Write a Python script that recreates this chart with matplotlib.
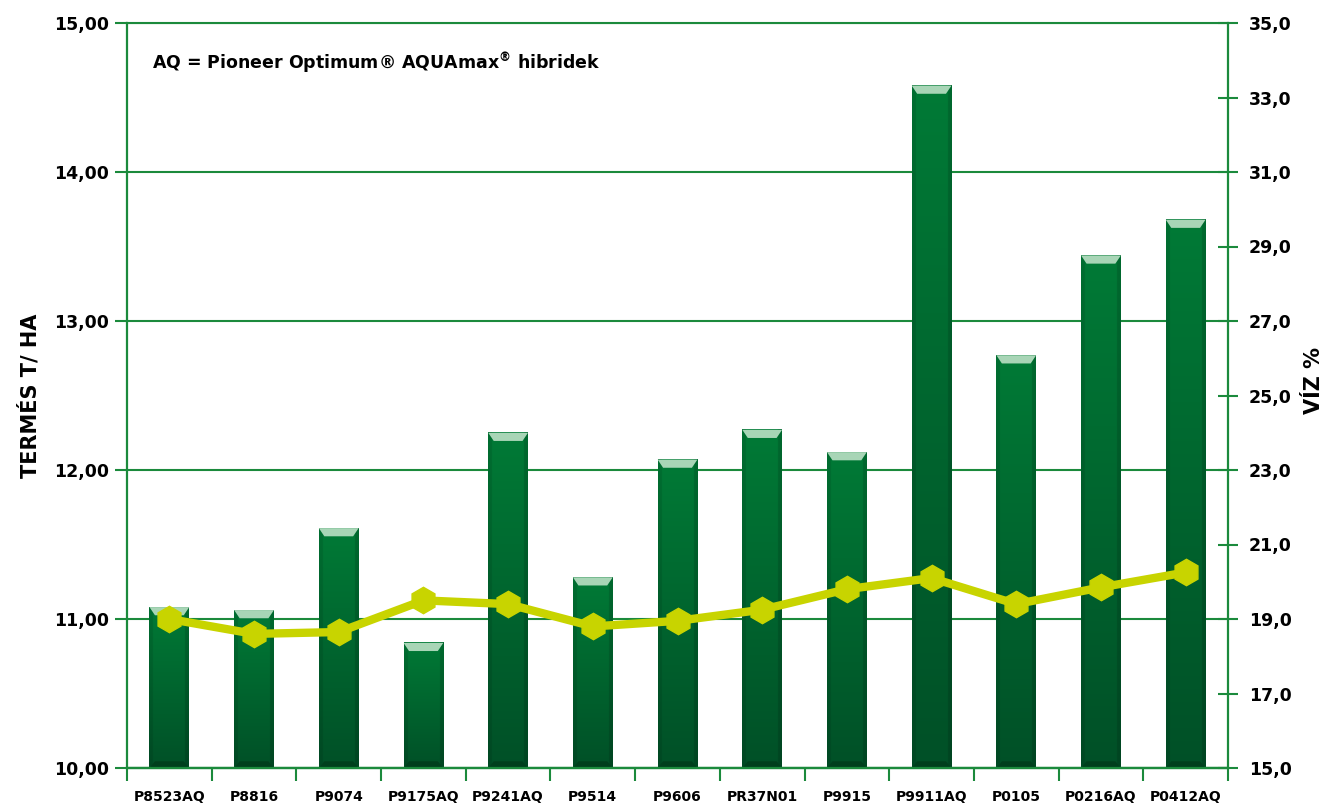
import numpy as np
import matplotlib
matplotlib.use("Agg")
import matplotlib.pyplot as plt
from matplotlib.patches import Polygon
from matplotlib.ticker import FixedLocator, FuncFormatter

categories = ["P8523AQ", "P8816", "P9074", "P9175AQ", "P9241AQ", "P9514", "P9606",
              "PR37N01", "P9915", "P9911AQ", "P0105", "P0216AQ", "P0412AQ"]
yield_t_ha = [11.08, 11.06, 11.61, 10.84, 12.25, 11.28, 12.07,
              12.27, 12.12, 14.58, 12.77, 13.44, 13.68]
water_pct = [19.0, 18.6, 18.65, 19.5, 19.4, 18.8, 18.95,
             19.25, 19.8, 20.1, 19.4, 19.85, 20.25]
left_ticks = [10, 11, 12, 13, 14, 15]
right_ticks = [15, 17, 19, 21, 23, 25, 27, 29, 31, 33, 35]

GREEN = "#1b8a3c"
LINE = "#c8d400"

plt.rcParams['font.family'] = ['DejaVu Sans']
plt.rcParams['mathtext.default'] = 'bf'

fig = plt.figure(figsize=(13.38, 8.07), dpi=100)
ax = fig.add_axes([127/1338, 39/807, (1228-127)/1338, (768-23)/807])
ax2 = ax.twinx()

x = np.arange(len(categories))
width = 0.47
ax.set_xlim(-0.5, len(categories) - 0.5)
ax.set_ylim(10, 15)
ax2.set_ylim(15, 35)

ax.grid(axis='y', color=GREEN, linewidth=1.5, zorder=0)
ax.set_axisbelow(True)

bars = ax.bar(x, yield_t_ha, width=width, color="#006f32", zorder=2)

# gradient image per bar
ny, nx = 200, 60
v = np.linspace(0, 1, ny)[:, None]          # 0 top -> 1 bottom
top_c = np.array([0x00, 0x7a, 0x36]) / 255
bot_c = np.array([0x00, 0x50, 0x27]) / 255
img = top_c[None, None, :] * (1 - v[..., None]) + bot_c[None, None, :] * v[..., None]
img = np.repeat(img, nx, axis=1)
hx = np.linspace(0, 1, nx)
edge = np.ones(nx)
edge[hx < 0.1] = 0.9
edge[hx > 0.9] = 0.86
img = img * edge[None, :, None]
img = np.clip(img, 0, 1)

cap_h = 0.055
inset = 0.065
bot_h = 0.045
for b in bars:
    x0 = b.get_x()
    x1 = x0 + b.get_width()
    top = b.get_height()
    ax.imshow(img, extent=[x0, x1, 10, top], aspect='auto', zorder=2.5,
              interpolation='bilinear')
    cap = Polygon([[x0, top], [x1, top], [x1 - inset, top - cap_h], [x0 + inset, top - cap_h]],
                  closed=True, facecolor="#a8d5b6", edgecolor='none', zorder=3)
    ax.add_patch(cap)
    bot = Polygon([[x0, 10], [x1, 10], [x1 - inset, 10 + bot_h], [x0 + inset, 10 + bot_h]],
                  closed=True, facecolor="#003f1d", edgecolor='none', zorder=3)
    ax.add_patch(bot)

ax.set_xlim(-0.5, len(categories) - 0.5)
ax.set_ylim(10, 15)

ax2.plot(x, water_pct, color=LINE, linewidth=6, marker='h', markersize=19,
         markerfacecolor=LINE, markeredgecolor=LINE, zorder=5)

# axes styling
for a in (ax, ax2):
    for s in a.spines.values():
        s.set_color(GREEN)
        s.set_linewidth(1.6)
ax2.spines['top'].set_visible(False)
ax.spines['right'].set_visible(False)
ax2.spines['left'].set_visible(False)
ax.spines['top'].set_linewidth(1.5)

ax.yaxis.set_major_locator(FixedLocator(left_ticks))
ax.yaxis.set_major_formatter(FuncFormatter(lambda v, p: f"{v:.2f}".replace('.', ',')))
ax2.yaxis.set_major_locator(FixedLocator(right_ticks))
ax2.yaxis.set_major_formatter(FuncFormatter(lambda v, p: f"{v:.1f}".replace('.', ',')))

ax.tick_params(axis='y', direction='out', length=9, width=1.5, color=GREEN,
               labelsize=12.5, pad=4)
ax2.tick_params(axis='y', direction='inout', length=14, width=1.5, color=GREEN,
                labelsize=12.5, pad=8)
for lab in ax.get_yticklabels() + ax2.get_yticklabels():
    lab.set_fontweight('bold')

ax.set_xticks(x)
ax.set_xticklabels(categories, fontsize=10, fontweight='bold')
ax.set_xticks(np.arange(-0.5, len(categories)), minor=True)
ax.tick_params(axis='x', which='major', length=0, pad=16)
ax.tick_params(axis='x', which='minor', direction='out', length=9, width=1.5, color=GREEN)

fig.text(30/1338, 1 - 396/807, "TERMÉS T/ HA", rotation=90, fontsize=15, fontweight='bold',
         ha='center', va='center')
fig.text(1314/1338, 1 - 380/807, "VÍZ %", rotation=90, fontsize=15, fontweight='bold',
         ha='center', va='center')

ax.text(0.023, 0.963, "AQ = Pioneer Optimum® AQUAmax$^{®}$ hibridek", transform=ax.transAxes,
        fontsize=12.5, fontweight='bold', ha='left', va='top')

fig.savefig("out.png", dpi=100)
